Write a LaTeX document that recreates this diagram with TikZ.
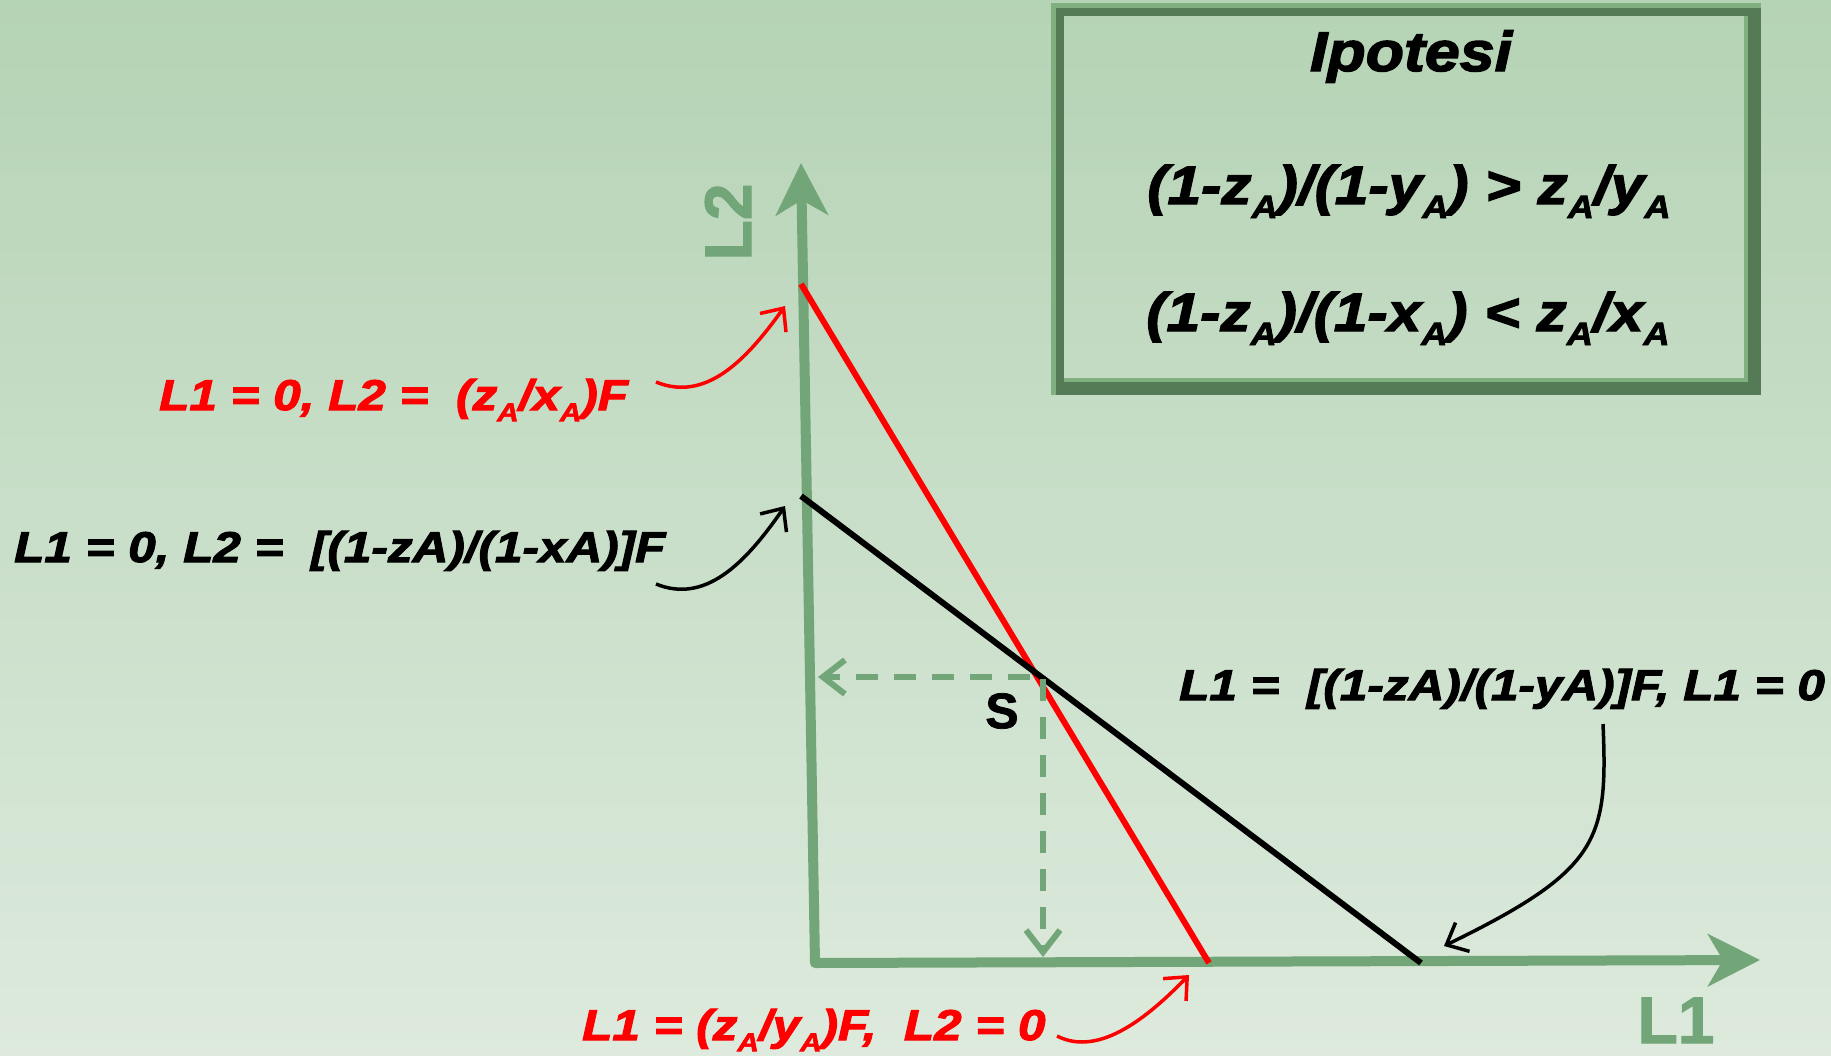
\documentclass[tikz,border=0pt]{standalone}
\usepackage{fontspec}
\setmainfont{Liberation Sans}
\newfontfamily\blk[FakeStretch=1.15,FakeBold=2.5]{Liberation Sans}
\newfontfamily\bxf[FakeStretch=1.12,FakeBold=2.5]{Liberation Sans}
\newfontfamily\axf[FakeBold=1.5]{Liberation Sans}
\usetikzlibrary{arrows.meta}
\definecolor{axisgreen}{RGB}{114,165,119}
\definecolor{bgtop}{RGB}{181,211,181}
\definecolor{bgbot}{RGB}{221,234,221}
\definecolor{framedark}{RGB}{84,122,86}
\definecolor{framelight}{RGB}{128,176,128}
\newcommand\sbA{\raisebox{-0.26em}{\scalebox{0.6}{A}}}
\begin{document}
\begin{tikzpicture}[x=1pt,y=-1pt,
  lab/.style={font=\blk\fontsize{43}{46}\selectfont\bfseries\itshape, inner sep=0pt, anchor=base west},
  boxtxt/.style={font=\bxf\fontsize{54}{58}\selectfont\bfseries\itshape, inner sep=0pt, anchor=base},
  axlab/.style={font=\axf\fontsize{66}{70}\selectfont\bfseries, text=axisgreen, inner sep=0pt, anchor=base},
  axisline/.style={axisgreen, line width=10pt, line join=round},
  dashline/.style={axisgreen, line width=6pt, dash pattern=on 22pt off 16pt, -{Straight Barb[length=22pt,width=34pt]}},
  callout/.style={line width=3.5pt, -{Straight Barb[length=18pt,width=32pt]}}
]
\useasboundingbox (0,0) rectangle (1831,1055);
\shade[top color=bgtop, bottom color=bgbot] (0,0) rectangle (1831,1055);

% hypothesis box
\draw[framedark, line width=13pt] (1057.5,9.5) rectangle (1754.5,388.5);
\draw[framelight, line width=5pt] (1053.5,395) -- (1053.5,5.5) -- (1761,5.5);
\draw[framelight, line width=4pt] (1064,380) -- (1746,380) -- (1746,16);
\node[boxtxt] (hyp) at (1411,71) {\fontsize{56}{60}\selectfont Ipotesi};
\node[boxtxt] (h1) at (1409,204) {(1-z\sbA)/(1-y\sbA) {>} z\sbA/y\sbA};
\node[boxtxt] (h2) at (1408,331) {(1-z\sbA)/(1-x\sbA) {<} z\sbA/x\sbA};

% axes
\coordinate (O) at (815,963);
\coordinate (ytip) at (801,163);
\coordinate (xtip) at (1760,960);
\draw[axisline, {Stealth[length=52pt,width=52pt,inset=15pt]}-{Stealth[length=52pt,width=52pt,inset=15pt]}] (ytip) -- (O) -- (xtip);
\node[axlab, rotate=90] (L2lab) at (751,222) {L2};
\node[axlab] (L1lab) at (1676,1043) {L1};

% budget lines
\coordinate (r1) at (801,284);
\coordinate (r2) at (1209,963);
\coordinate (b1) at (801,496);
\coordinate (b2) at (1421,963);
\draw[red, line width=6pt] (r1) -- (r2);
\draw[black, line width=6pt] (b1) -- (b2);

% point S
\coordinate (S) at (1036,677);
\coordinate (Sy) at (818,677);
\coordinate (Sx) at (1043,957);
\draw[dashline] (1030,677) -- (Sy);
\draw[dashline] (1043,679) -- (Sx);
\node[font=\axf\fontsize{50}{52}\selectfont\bfseries, inner sep=0pt] (Slab) at (1002,711) {S};

% labels
\node[lab, text=red] (lred) at (159,410) {L1 = 0, L2 =\ \ (z\sbA/x\sbA)F};
\node[lab, text=black] (lblack) at (14,562) {L1 = 0, L2 =\ \ [(1-zA)/(1-xA)]F};
\node[lab, text=black] (lright) at (1179,700) {L1 =\ \ [(1-zA)/(1-yA)]F, L1 = 0};
\node[lab, text=red] (lbottom) at (582,1040) {L1 = (z\sbA/y\sbA)F,\ \ L2 = 0};

% callout arrows
\coordinate (c1s) at (656,382);
\coordinate (c1e) at (785,306);
\coordinate (c2s) at (656,584);
\coordinate (c2e) at (785,506);
\coordinate (c3s) at (1603,724);
\coordinate (c3e) at (1444,946);
\coordinate (c4s) at (1057,1036);
\coordinate (c4e) at (1189,975);
\draw[callout, red] (c1s) .. controls (705,402) and (745,362) .. (c1e);
\draw[callout, black] (c2s) .. controls (705,604) and (745,564) .. (c2e);
\draw[callout, black] (c3s) .. controls (1608,840) and (1600,870) .. (c3e);
\draw[callout, red] (c4s) .. controls (1100,1058) and (1150,1015) .. (c4e);
\end{tikzpicture}
\end{document}
